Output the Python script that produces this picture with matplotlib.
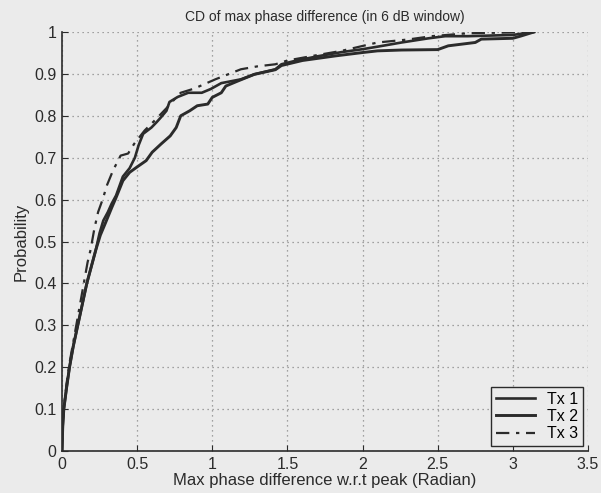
import matplotlib
matplotlib.use("Agg")
import matplotlib.pyplot as plt

plt.rcParams['font.family'] = ['Liberation Sans', 'DejaVu Sans']

title = "CD of max phase difference (in 6 dB window)"
xlabel = "Max phase difference w.r.t peak (Radian)"
ylabel = "Probability"
labels = ["Tx 1", "Tx 2", "Tx 3"]

tx1_x = [0, 0.005, 0.012, 0.03, 0.05, 0.075, 0.105, 0.135, 0.165, 0.195, 0.225, 0.25, 0.275, 0.305,
         0.33, 0.36, 0.38, 0.405, 0.45, 0.485, 0.51, 0.54, 0.595, 0.63, 0.66, 0.695, 0.715, 0.77, 0.84,
         0.93, 0.99, 1.06, 1.19, 1.28, 1.42, 1.46, 1.55, 1.7, 1.86, 2.0, 2.1, 2.26, 2.44, 2.55, 2.7,
         3.0, 3.14]
tx1_y = [0, 0.06, 0.1, 0.15, 0.2, 0.25, 0.3, 0.35, 0.4, 0.44, 0.48, 0.52, 0.55, 0.57,
         0.59, 0.61, 0.63, 0.655, 0.675, 0.7, 0.73, 0.757, 0.772, 0.785, 0.797, 0.812, 0.833, 0.845, 0.855,
         0.855, 0.864, 0.878, 0.887, 0.899, 0.911, 0.923, 0.931, 0.942, 0.952, 0.959, 0.965, 0.975, 0.985,
         0.99, 0.99, 0.993, 1.0]

tx2_x = [0, 0.005, 0.012, 0.03, 0.05, 0.075, 0.105, 0.135, 0.165, 0.195, 0.225, 0.255, 0.29, 0.33,
         0.36, 0.405, 0.45, 0.5, 0.56, 0.6, 0.66, 0.72, 0.76, 0.79, 0.85, 0.9, 0.97, 1.0, 1.06, 1.09,
         1.17, 1.28, 1.42, 1.46, 1.6, 1.82, 2.0, 2.1, 2.26, 2.5, 2.57, 2.75, 2.79, 3.0, 3.05, 3.14]
tx2_y = [0, 0.06, 0.1, 0.15, 0.2, 0.25, 0.3, 0.35, 0.4, 0.44, 0.48, 0.515, 0.545, 0.58,
         0.605, 0.645, 0.665, 0.678, 0.693, 0.713, 0.733, 0.752, 0.772, 0.8, 0.812, 0.824, 0.828, 0.844,
         0.855, 0.871, 0.883, 0.899, 0.91, 0.92, 0.932, 0.943, 0.951, 0.955, 0.957, 0.958, 0.967, 0.975,
         0.983, 0.985, 0.99, 1.0]

tx3_x = [0, 0.005, 0.012, 0.03, 0.05, 0.075, 0.1, 0.125, 0.15, 0.17, 0.19, 0.215, 0.24, 0.27, 0.3,
         0.34, 0.39, 0.44, 0.48, 0.55, 0.62, 0.7, 0.75, 0.79, 0.88, 1.02, 1.19, 1.3, 1.42, 1.5, 1.7,
         1.86, 2.1, 2.3, 2.46, 2.7, 3.14]
tx3_y = [0, 0.07, 0.1, 0.16, 0.21, 0.26, 0.31, 0.36, 0.41, 0.45, 0.48, 0.53, 0.57, 0.6, 0.635,
         0.67, 0.705, 0.71, 0.733, 0.765, 0.79, 0.82, 0.84, 0.855, 0.865, 0.887, 0.911, 0.918, 0.923,
         0.932, 0.945, 0.955, 0.975, 0.982, 0.99, 0.997, 1.0]

xticks = [0, 0.5, 1, 1.5, 2, 2.5, 3, 3.5]
xticklabels = ["0", "0.5", "1", "1.5", "2", "2.5", "3", "3.5"]
yticks = [0, 0.1, 0.2, 0.3, 0.4, 0.5, 0.6, 0.7, 0.8, 0.9, 1]
yticklabels = ["0", "0.1", "0.2", "0.3", "0.4", "0.5", "0.6", "0.7", "0.8", "0.9", "1"]

bg = "#ebebeb"
ink = "#2b2b2b"

fig = plt.figure(figsize=(6.01, 4.93), dpi=100, facecolor=bg)
ax = fig.add_axes([62/601, 42/493, 526/601, 419/493])
ax.set_facecolor(bg)

ax.plot(tx1_x, tx1_y, color=ink, lw=1.9, ls='-', label=labels[0])
ax.plot(tx2_x, tx2_y, color=ink, lw=2.1, ls='-', label=labels[1])
ax.plot(tx3_x, tx3_y, color=ink, lw=1.6, ls=(0, (6, 3, 1.5, 3)), label=labels[2])

ax.set_xlim(0, 3.5)
ax.set_ylim(0, 1)
ax.set_xticks(xticks)
ax.set_xticklabels(xticklabels)
ax.set_yticks(yticks)
ax.set_yticklabels(yticklabels)
ax.grid(True, ls=(0, (1, 3)), color="#888888", lw=0.9)
for s in ['top', 'right']:
    ax.spines[s].set_visible(False)
for s in ['left', 'bottom']:
    ax.spines[s].set_color(ink)
    ax.spines[s].set_linewidth(1.2)
ax.tick_params(direction='in', length=4, colors=ink, labelsize=11.5, pad=4)

ax.set_title(title, fontsize=10, color=ink, pad=8)
ax.set_xlabel(xlabel, fontsize=12, color=ink, labelpad=1)
ax.set_ylabel(ylabel, fontsize=12, color=ink, labelpad=4)

leg = ax.legend(loc='lower right', fontsize=11.5, frameon=True, fancybox=False,
                facecolor=bg, edgecolor=ink, framealpha=1, borderaxespad=0.3,
                handlelength=2.4, labelspacing=0.15, borderpad=0.3)
leg.get_frame().set_linewidth(1.0)

fig.savefig("out.png", dpi=100, facecolor=bg)
